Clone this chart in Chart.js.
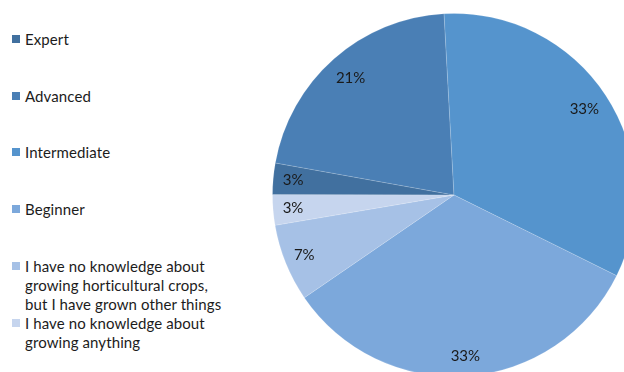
<!DOCTYPE html>
<html>
<head>
<meta charset="utf-8">
<script src="https://cdn.jsdelivr.net/npm/chart.js@4"></script>
<style>
    html, body { margin: 0; padding: 0; width: 624px; height: 372px; overflow: hidden; background: #fff; }
    #wrap { position: absolute; left: 272px; top: 13px; width: 364px; height: 364px; }
    .legend-item { position: absolute; left: 12px; font-family: Lato, "Liberation Sans", sans-serif; font-size: 15px; line-height: 19px; color: #1c1c1c; }
    .legend-box { position: absolute; left: 0; top: 5px; width: 8px; height: 8px; }
    .legend-text { margin-left: 13px; white-space: nowrap; letter-spacing: 0.1px; }
</style>
</head>
<body>
<div id="legend"></div>
<div id="wrap"><canvas id="pieChart"></canvas></div>
<script>
// values (percent of respondents)
const labels = [
    'Expert',
    'Advanced',
    'Intermediate',
    'Beginner',
    'I have no knowledge about growing horticultural crops, but I have grown other things',
    'I have no knowledge about growing anything'
];
const legendLines = [
    ['Expert'],
    ['Advanced'],
    ['Intermediate'],
    ['Beginner'],
    ['I have no knowledge about', 'growing horticultural crops,', 'but I have grown other things'],
    ['I have no knowledge about', 'growing anything']
];
const shares = [2.8, 21.3, 33.2, 33.1, 6.9, 2.7];
const colors = ['#41709f', '#4a7fb5', '#5594cd', '#7ca8db', '#a6c1e6', '#c6d5ee'];
const legendTops = [30, 87, 143, 200, 257, 314];

function buildLegend() {
    const legend = document.getElementById('legend');
    legendLines.forEach((lines, i) => {
        const item = document.createElement('div');
        item.className = 'legend-item';
        item.style.top = legendTops[i] + 'px';
        const box = document.createElement('div');
        box.className = 'legend-box';
        box.style.background = colors[i];
        item.appendChild(box);
        const text = document.createElement('div');
        text.className = 'legend-text';
        text.innerHTML = lines.join('<br>');
        item.appendChild(text);
        legend.appendChild(item);
    });
}

const pctLabels = {
    id: 'pctLabels',
    afterDatasetsDraw(chart) {
        const ctx = chart.ctx;
        const meta = chart.getDatasetMeta(0);
        const total = shares.reduce((a, b) => a + b, 0);
        ctx.save();
        ctx.font = '15px Lato, "Liberation Sans", sans-serif';
        ctx.fillStyle = '#1a1a1a';
        ctx.textAlign = 'center';
        ctx.textBaseline = 'middle';
        meta.data.forEach((arc, i) => {
            const mid = (arc.startAngle + arc.endAngle) / 2;
            const r = arc.outerRadius * (i === 1 || i === 2 ? 0.86 : 0.89);
            const x = arc.x + Math.cos(mid) * r;
            const y = arc.y + Math.sin(mid) * r;
            ctx.fillText(Math.round(shares[i] / total * 100) + '%', x, y);
        });
        ctx.restore();
    }
};

document.addEventListener('DOMContentLoaded', function () {
    buildLegend();
    const ctx = document.getElementById('pieChart').getContext('2d');
    new Chart(ctx, {
        type: 'pie',
        data: {
            labels: labels,
            datasets: [{
                data: shares,
                backgroundColor: colors,
                borderColor: 'rgba(255,255,255,0.15)',
                borderWidth: 1
            }]
        },
        options: {
            responsive: true,
            maintainAspectRatio: false,
            animation: false,
            rotation: 270.1,
            layout: { padding: 0 },
            plugins: {
                legend: { display: false },
                tooltip: { enabled: false }
            }
        },
        plugins: [pctLabels]
    });
});
</script>
</body>
</html>
